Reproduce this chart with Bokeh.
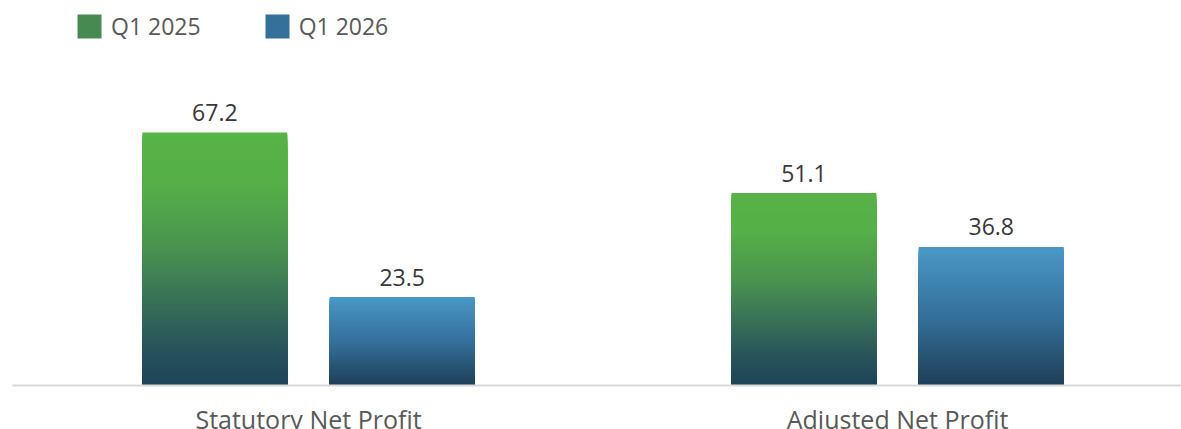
from bokeh.plotting import figure
from bokeh.models import ColumnDataSource, Range1d, FixedTicker, Legend, LegendItem
from bokeh.core.properties import value
from bokeh.embed import file_html
from bokeh.resources import INLINE

categories = ["Statutory Net Profit", "Adjusted Net Profit"]
series_names = ["Q1 2025", "Q1 2026"]
q1_2025 = [67.2, 51.1]
q1_2026 = [23.5, 36.8]

# gradient stops (t from top of bar to bottom)
green_stops = [(0.0, "#57B247"), (0.2, "#56AF48"), (0.45, "#4A9350"),
               (0.65, "#3A7357"), (0.85, "#28545A"), (1.0, "#1F4459")]
blue_stops = [(0.0, "#4A97C6"), (0.5, "#35709B"), (1.0, "#1F3F58")]


def hex2rgb(h):
    h = h.lstrip("#")
    return tuple(int(h[i:i + 2], 16) for i in (0, 2, 4))


def interp(stops, t):
    for (t0, c0), (t1, c1) in zip(stops[:-1], stops[1:]):
        if t <= t1:
            f = (t - t0) / (t1 - t0) if t1 > t0 else 0
            a, b = hex2rgb(c0), hex2rgb(c1)
            return "#%02x%02x%02x" % tuple(round(a[k] + (b[k] - a[k]) * f) for k in range(3))
    return stops[-1][1]


N = 100
bar_w = 0.246
offset = 0.159


def strips(vals, off, stops):
    # overlapping layers: tallest (top colour) first, shorter ones drawn over it
    d = dict(left=[], right=[], bottom=[], top=[], color=[])
    for k in range(N):
        for i, v in enumerate(vals):
            cx = i + 0.5 + off
            d["left"].append(cx - bar_w / 2)
            d["right"].append(cx + bar_w / 2)
            d["bottom"].append(0)
            d["top"].append(v * (N - k) / N)
            d["color"].append(interp(stops, k / (N - 1)))
    return ColumnDataSource(d)


p = figure(frame_width=1169, frame_height=385, output_backend="svg",
           toolbar_location=None, x_range=Range1d(-0.0025, 1.982),
           y_range=Range1d(0, 102.26))
p.min_border_left = 12
p.min_border_right = 0
p.min_border_top = 0
p.min_border_bottom = 0
p.outline_line_color = None
p.background_fill_color = "white"
p.border_fill_color = "white"
p.xgrid.visible = False
p.ygrid.visible = False
p.yaxis.visible = False

src1 = strips(q1_2025, -offset, green_stops)
src2 = strips(q1_2026, offset, blue_stops)
r1 = p.quad(left="left", right="right", bottom="bottom", top="top", fill_color="color",
            line_color=None, source=src1)
r2 = p.quad(left="left", right="right", bottom="bottom", top="top", fill_color="color",
            line_color=None, source=src2)

# value labels
lx = [i + 0.5 - offset for i in range(len(categories))] + [i + 0.5 + offset for i in range(len(categories))]
ly = q1_2025 + q1_2026
lt = [f"{v:.1f}" for v in ly]
p.text(x=lx, y=ly, text=lt, text_align="center", text_baseline="alphabetic",
       y_offset=-20, text_font=value("Open Sans"), text_font_size="23px",
       text_color="#383838", text_font_style="normal")

ax = p.xaxis[0]
ax.ticker = FixedTicker(ticks=[i + 0.5 for i in range(len(categories))])
ax.major_label_overrides = {i + 0.5: c for i, c in enumerate(categories)}
ax.major_tick_line_color = None
ax.minor_tick_line_color = None
ax.axis_line_color = "#d9d9d9"
ax.axis_line_width = 2
ax.major_label_text_font = "Open Sans"
ax.major_label_text_font_size = "25px"
ax.major_label_text_color = "#595959"
ax.major_label_standoff = 10

mid = 2 * int(N * 0.5)
legend = Legend(items=[LegendItem(label=series_names[0], renderers=[r1], index=mid),
                       LegendItem(label=series_names[1], renderers=[r2], index=mid)],
                orientation="horizontal", location=(62, 343))
legend.glyph_width = 30
legend.glyph_height = 30
legend.label_standoff = 7
legend.spacing = 61
legend.padding = 0
legend.margin = 0
legend.border_line_color = None
legend.background_fill_alpha = 0
legend.label_text_font = "Open Sans"
legend.label_text_font_size = "23px"
legend.label_text_color = "#595959"
p.add_layout(legend, "center")

open("out.html", "w").write(file_html(p, INLINE))
